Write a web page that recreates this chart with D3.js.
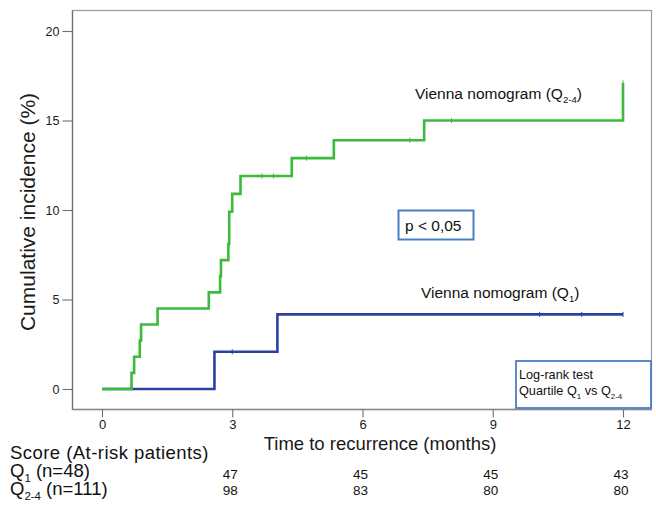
<!DOCTYPE html>
<html>
<head>
<meta charset="utf-8">
<script src="https://cdn.jsdelivr.net/npm/d3@7/dist/d3.min.js"></script>
<style>
  html, body { margin: 0; padding: 0; background: #fff; }
  svg { display: block; font-family: "Liberation Sans", Arial, Helvetica, sans-serif; }
</style>
</head>
<body>
<svg id="chart" width="656" height="509"></svg>
<script>
// ---- data ----
const xTicks = [0, 3, 6, 9, 12];
const yTicks = [0, 5, 10, 15, 20];

const q24Times  = [0, 0.68, 0.74, 0.87, 0.90, 1.28, 2.46, 2.72, 2.74, 2.91, 2.93, 3.00, 3.19, 4.37, 5.34, 7.42, 12.0];
const q24Values = [0, 0.9, 1.8, 2.7, 3.6, 4.5, 5.4, 6.3, 7.2, 8.1, 9.9, 10.9, 11.9, 12.9, 13.9, 15.0, 17.1];
const q24Censor = [3.68, 3.95, 4.71, 7.09, 8.05, 12.0];

const q1Times  = [0, 2.59, 4.04, 12.0];
const q1Values = [0, 2.08, 4.17, 4.17];
const q1Censor = [3.0, 10.08, 11.05, 12.0];

const riskTimes = [3, 6, 9, 12];
const riskQ1  = [47, 45, 45, 43];
const riskQ24 = [98, 83, 80, 80];

// ---- drawing ----
const svg = d3.select("#chart");
const x = d3.scaleLinear().domain([0, 12]).range([102, 623]);
const y = d3.scaleLinear().domain([0, 20]).range([389, 31]);

const frame = { left: 72.5, top: 10.5, right: 651.5, bottom: 409.5 };

// frame
svg.append("rect")
  .attr("x", frame.left).attr("y", frame.top)
  .attr("width", frame.right - frame.left).attr("height", frame.bottom - frame.top)
  .attr("fill", "none").attr("stroke", "#9a9a9a").attr("stroke-width", 1.2);
svg.append("line").attr("x1", frame.left).attr("x2", frame.left)
  .attr("y1", frame.top).attr("y2", frame.bottom).attr("stroke", "#707070").attr("stroke-width", 1.3);
svg.append("line").attr("x1", frame.left).attr("x2", frame.right)
  .attr("y1", frame.bottom).attr("y2", frame.bottom).attr("stroke", "#8a8a8a").attr("stroke-width", 1.3);

// y axis
const yAxis = d3.axisLeft(y).tickValues(yTicks).tickSize(10).tickSizeOuter(0).tickPadding(3);
const gy = svg.append("g").attr("transform", `translate(${frame.left},0)`).call(yAxis);
gy.select(".domain").remove();
gy.selectAll("line").attr("stroke", "#707070").attr("stroke-width", 1.1);
gy.selectAll("text").attr("font-size", "12.5px").attr("fill", "#1a1a1a")
  .attr("font-family", "Liberation Sans, Arial, sans-serif");

// x axis
const xAxis = d3.axisBottom(x).tickValues(xTicks).tickSize(8).tickSizeOuter(0).tickPadding(2);
const gx = svg.append("g").attr("transform", `translate(0,${frame.bottom})`).call(xAxis);
gx.select(".domain").remove();
gx.selectAll("line").attr("stroke", "#707070").attr("stroke-width", 1.1);
gx.selectAll("text").attr("font-size", "13px").attr("fill", "#1a1a1a")
  .attr("font-family", "Liberation Sans, Arial, sans-serif");

// axis titles
svg.append("text")
  .attr("transform", `translate(35,${(frame.top + frame.bottom) / 2 + 2}) rotate(-90)`)
  .attr("text-anchor", "middle").attr("font-size", "21px").attr("fill", "#1a1a1a")
  .text("Cumulative incidence (%)");
svg.append("text")
  .attr("x", 380).attr("y", 450).attr("text-anchor", "middle")
  .attr("font-size", "18.5px").attr("fill", "#1a1a1a")
  .text("Time to recurrence (months)");

// step lines
const stepLine = d3.line().x(d => x(d[0])).y(d => y(d[1])).curve(d3.curveStepAfter);
const q1Data = q1Times.map((t, i) => [t, q1Values[i]]);
const q24Data = q24Times.map((t, i) => [t, q24Values[i]]);

function valueAt(times, values, t) {
  let v = values[0];
  for (let i = 0; i < times.length; i++) if (times[i] <= t) v = values[i];
  return v;
}

svg.append("path").datum(q1Data).attr("d", stepLine)
  .attr("fill", "none").attr("stroke", "#2d40a0").attr("stroke-width", 2.6);
svg.append("g").selectAll("line").data(q1Censor).join("line")
  .attr("x1", d => x(d)).attr("x2", d => x(d))
  .attr("y1", d => y(valueAt(q1Times, q1Values, d)) - 2.5)
  .attr("y2", d => y(valueAt(q1Times, q1Values, d)) + 2.5)
  .attr("stroke", "#2d40a0").attr("stroke-width", 1);

svg.append("path").datum(q24Data).attr("d", stepLine)
  .attr("fill", "none").attr("stroke", "#3cba3c").attr("stroke-width", 2.6);
svg.append("g").selectAll("line").data(q24Censor).join("line")
  .attr("x1", d => x(d)).attr("x2", d => x(d))
  .attr("y1", d => y(valueAt(q24Times, q24Values, d)) - 2.5)
  .attr("y2", d => y(valueAt(q24Times, q24Values, d)) + 2.5)
  .attr("stroke", "#3cba3c").attr("stroke-width", 1);

// labels with subscripts
function labelWithSub(sel, xPos, yPos, size, parts) {
  const t = sel.append("text").attr("x", xPos).attr("y", yPos)
    .attr("font-size", size + "px").attr("fill", "#111");
  parts.forEach(p => {
    if (p.sub) {
      t.append("tspan").attr("dy", size * 0.28).attr("font-size", (size * 0.62) + "px").text(p.sub);
    } else {
      const ts = t.append("tspan").text(p.text);
      if (p.after) ts.attr("dy", -size * 0.28);
    }
  });
  return t;
}

labelWithSub(svg, 415, 99, 15.5, [{ text: "Vienna nomogram (Q" }, { sub: "2-4" }, { text: ")", after: true }]);
labelWithSub(svg, 421, 298, 15.5, [{ text: "Vienna nomogram (Q" }, { sub: "1" }, { text: ")", after: true }]);

// p-value box
svg.append("rect").attr("x", 398.5).attr("y", 210.5).attr("width", 75).attr("height", 29)
  .attr("fill", "#fff").attr("stroke", "#4a7ec6").attr("stroke-width", 2);
svg.append("text").attr("x", 405).attr("y", 231).attr("font-size", "15.5px").attr("fill", "#111")
  .text("p < 0,05");

// log-rank box
svg.append("rect").attr("x", 516).attr("y", 361).attr("width", 135).attr("height", 47)
  .attr("fill", "#fff").attr("stroke", "#4a7ec6").attr("stroke-width", 1.8);
svg.append("text").attr("x", 519).attr("y", 379).attr("font-size", "12.7px").attr("fill", "#111")
  .text("Log-rank test");
labelWithSub(svg, 519, 395, 12.7, [{ text: "Quartile Q" }, { sub: "1" }, { text: " vs Q", after: true }, { sub: "2-4" }]);

// at-risk table
svg.append("text").attr("x", 10).attr("y", 459).attr("font-size", "18.5px").attr("fill", "#111")
  .attr("letter-spacing", "0.45px")
  .text("Score (At-risk patients)");
labelWithSub(svg, 10, 477, 18.5, [{ text: "Q" }, { sub: "1" }, { text: " (n=48)", after: true }]);
labelWithSub(svg, 10, 495, 18.5, [{ text: "Q" }, { sub: "2-4" }, { text: " (n=111)", after: true }]);

svg.append("g").selectAll("text").data(riskTimes).join("text")
  .attr("x", d => x(d) - 2).attr("y", 479).attr("text-anchor", "middle")
  .attr("font-size", "13.5px").attr("fill", "#111")
  .text((d, i) => riskQ1[i]);
svg.append("g").selectAll("text").data(riskTimes).join("text")
  .attr("x", d => x(d) - 2).attr("y", 495).attr("text-anchor", "middle")
  .attr("font-size", "13.5px").attr("fill", "#111")
  .text((d, i) => riskQ24[i]);
</script>
</body>
</html>
